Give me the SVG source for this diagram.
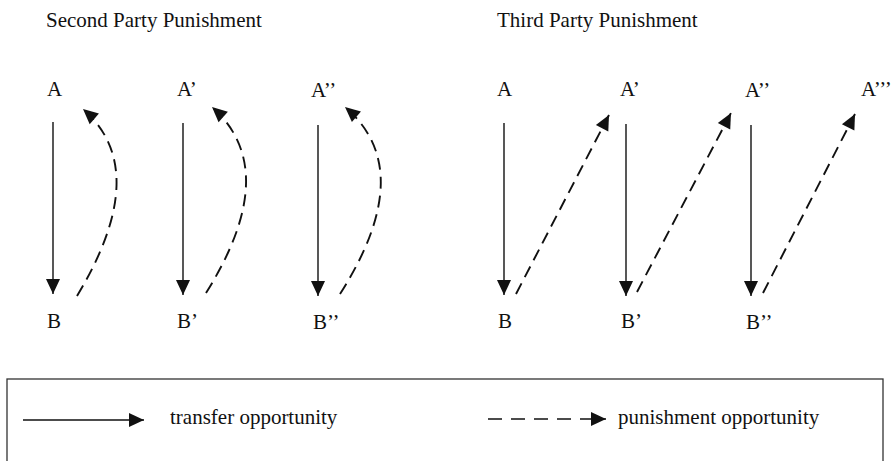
<svg xmlns="http://www.w3.org/2000/svg" width="896" height="461" viewBox="0 0 896 461">
<style>
text{font-family:"Liberation Serif","Times New Roman",serif;font-size:21px;fill:#111}
.solid{fill:none;stroke:#111;stroke-width:1.4}
.dash{fill:none;stroke:#111;stroke-width:1.9;stroke-dasharray:12 7}
.ldash{fill:none;stroke:#111;stroke-width:1.6;stroke-dasharray:14 9}
.box{fill:none;stroke:#333;stroke-width:1.3}
</style>
<defs>
<marker id="ah" markerUnits="userSpaceOnUse" markerWidth="18" markerHeight="18" viewBox="0 0 18 18" refX="16" refY="9" orient="auto">
<path d="M1,2 L16,9 L1,16 Z" fill="#111"/>
</marker>
</defs>
<rect width="896" height="461" fill="#fff"/>
<g id="titles">
<text x="46" y="27">Second Party Punishment</text>
<text x="497" y="27">Third Party Punishment</text>
</g>
<g id="node-A1"><text x="47" y="96">A</text></g>
<g id="node-B1"><text x="47" y="328">B</text></g>
<g id="node-A2"><text x="177" y="96">A’</text></g>
<g id="node-B2"><text x="177" y="328">B’</text></g>
<g id="node-A3"><text x="311" y="97">A’’</text></g>
<g id="node-B3"><text x="313" y="329">B’’</text></g>
<g id="node-TA"><text x="497" y="96">A</text></g>
<g id="node-TB"><text x="498" y="328">B</text></g>
<g id="node-TA1"><text x="620" y="96">A’</text></g>
<g id="node-TB1"><text x="621" y="328">B’</text></g>
<g id="node-TA2"><text x="745" y="97">A’’</text></g>
<g id="node-TB2"><text x="746" y="329">B’’</text></g>
<g id="node-TA3"><text x="861" y="96">A’’’</text></g>
<g id="connectors">
<path class="solid" d="M53,122 L53,294" marker-end="url(#ah)"/>
<path class="dash" d="M77,296 Q153,170 83,109" marker-end="url(#ah)"/>
<path class="solid" d="M183,123 L183,295" marker-end="url(#ah)"/>
<path class="dash" d="M206,293 Q283,170 212,107" marker-end="url(#ah)"/>
<path class="solid" d="M318,125 L318,296" marker-end="url(#ah)"/>
<path class="dash" d="M340,294 Q419,170 345,107" marker-end="url(#ah)"/>
<path class="solid" d="M504,123 L504,295" marker-end="url(#ah)"/>
<path class="dash" d="M516,294 L609,115" marker-end="url(#ah)"/>
<path class="solid" d="M626,124 L626,296" marker-end="url(#ah)"/>
<path class="dash" d="M637,292 L731,113" marker-end="url(#ah)"/>
<path class="solid" d="M751,125 L751,296" marker-end="url(#ah)"/>
<path class="dash" d="M763,293 L855,114" marker-end="url(#ah)"/>
</g>
<g id="legend">
<rect class="box" x="7" y="379" width="876" height="95"/>
<path class="solid" d="M23,420 L144,420" marker-end="url(#ah)"/>
<text x="170" y="424">transfer opportunity</text>
<path class="ldash" d="M488,419 L606,419" marker-end="url(#ah)"/>
<text x="618" y="424">punishment opportunity</text>
</g>
</svg>
